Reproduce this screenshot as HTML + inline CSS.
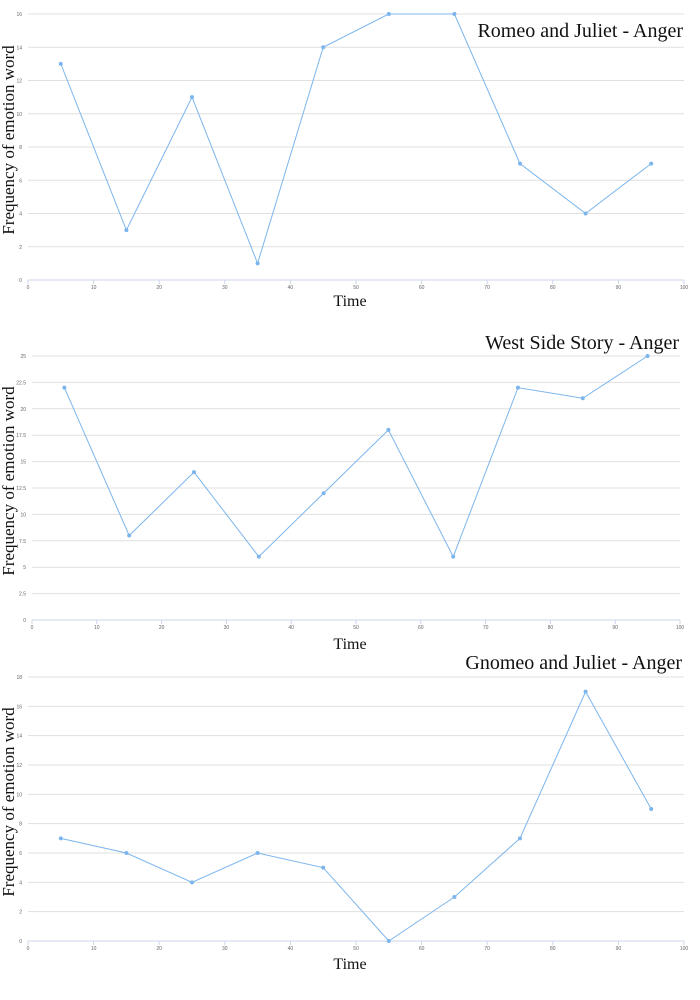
<!DOCTYPE html>
<html><head><meta charset="utf-8"><style>
body{margin:0;background:#fff;width:700px;height:1000px;overflow:hidden}
svg{display:block}
</style></head><body>
<svg id="s" width="700" height="1000"></svg>
<script>
const xValues=[5,15,25,35,45,55,65,75,85,95];
const romeoValues=[13,3,11,1,14,16,16,7,4,7];
const westValues=[22,8,14,6,12,18,6,22,21,25];
const gnomeoValues=[7,6,4,6,5,0,3,7,17,9];
const xTicks=[0,10,20,30,40,50,60,70,80,90,100];
const yTicks1=[0,2,4,6,8,10,12,14,16];
const yTicks2=[0,2.5,5,7.5,10,12.5,15,17.5,20,22.5,25];
const yTicks3=[0,2,4,6,8,10,12,14,16,18];
const charts=[
 {name:'romeo',title:'Romeo and Juliet - Anger',vals:romeoValues,ticks:yTicks1,ymax:16,x0:28,x1:684,y0:280,y1:14,tx:683,ty:37,xt:300},
 {name:'west-side',title:'West Side Story - Anger',vals:westValues,ticks:yTicks2,ymax:25,x0:32,x1:680,y0:620,y1:356,tx:679,ty:349,xt:643},
 {name:'gnomeo',title:'Gnomeo and Juliet - Anger',vals:gnomeoValues,ticks:yTicks3,ymax:18,x0:28,x1:684,y0:941,y1:677,tx:682,ty:669,xt:963}
];
const s=document.getElementById('s');const NS='http://www.w3.org/2000/svg';
function mk(t,a,p){const e=document.createElementNS(NS,t);for(const k in a)e.setAttribute(k,a[k]);(p||s).appendChild(e);return e;}
charts.forEach(c=>{
 const g=mk('g',{});
 
 
 const X=v=>c.x0+(v/100)*(c.x1-c.x0);
 const Y=v=>c.y0-(v/c.ymax)*(c.y0-c.y1);
 c.ticks.forEach(t=>{
  const l=mk('line',{x1:c.x0,x2:c.x1,y1:Y(t),y2:Y(t),stroke:t===0?'#ccd6eb':'#e0e0e0','stroke-width':1},g);
  
  
  const tx=mk('text',{x:c.x0-6,y:Y(t)+2,'text-anchor':'end','font-size':5,fill:'#666','font-family':'Liberation Sans, sans-serif'},g);
  tx.textContent=t;
  
  
 });
 xTicks.forEach(t=>{
  const l=mk('line',{x1:X(t),x2:X(t),y1:c.y0,y2:c.y0+4,stroke:'#ccd6eb'},g);
  
  
  const tx=mk('text',{x:X(t),y:c.y0+9,'text-anchor':'middle','font-size':5,fill:'#666','font-family':'Liberation Sans, sans-serif'},g);
  tx.textContent=t;
  
  
 });
 const pts=xValues.map((x,i)=>X(x)+','+Y(c.vals[i])).join(' ');
 const pl=mk('polyline',{points:pts,fill:'none',stroke:'#7cb5ec','stroke-width':1},g);
 
 
 xValues.forEach((x,i)=>{
  const p=mk('circle',{cx:X(x),cy:Y(c.vals[i]),r:2,fill:'#7cb5ec'},g);
  
  
 });
 const ti=mk('text',{x:c.tx,y:c.ty,'text-anchor':'end','font-size':20,fill:'#111','font-family':'Liberation Serif, serif'},g);
 ti.textContent=c.title;
 
 
 const xt=mk('text',{x:(c.x0+c.x1)/2-6,y:c.xt+6,'text-anchor':'middle','font-size':16,fill:'#111','font-family':'Liberation Serif, serif'},g);
 xt.textContent='Time';
 
 
 const ym=(c.y0+c.y1)/2-7;
 const yt=mk('text',{x:0,y:0,transform:`translate(14,${ym}) rotate(-90)`,'text-anchor':'middle','font-size':17,fill:'#111','font-family':'Liberation Serif, serif'},g);
 yt.textContent='Frequency of emotion word';
 
 
});
</script>
</body></html>
